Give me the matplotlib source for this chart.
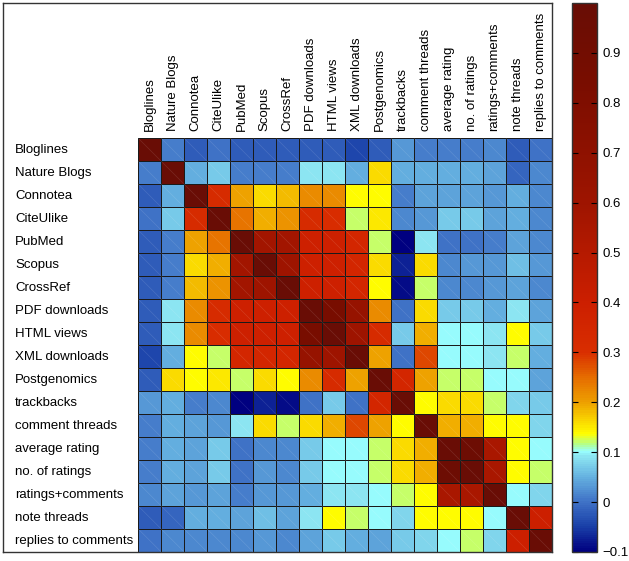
import numpy as np
import matplotlib
matplotlib.use("Agg")
import matplotlib.pyplot as plt
from matplotlib.colors import LinearSegmentedColormap, Normalize
from matplotlib.collections import LineCollection

labels = ["Bloglines", "Nature Blogs", "Connotea", "CiteUlike", "PubMed", "Scopus",
          "CrossRef", "PDF downloads", "HTML views", "XML downloads", "Postgenomics",
          "trackbacks", "comment threads", "average rating", "no. of ratings",
          "ratings+comments", "note threads", "replies to comments"]

corr = [
    [1.00, 0.01, -0.02, 0.00, -0.02, -0.02, -0.02, -0.02, -0.02, -0.04, -0.02, 0.03, 0.01, 0.01, 0.01, 0.02, -0.02, 0.00],
    [0.01, 1.00, 0.05, 0.07, 0.01, 0.01, 0.01, 0.09, 0.09, 0.05, 0.16, 0.05, 0.05, 0.05, 0.05, 0.04, -0.01, 0.02],
    [-0.02, 0.05, 1.00, 0.32, 0.20, 0.16, 0.18, 0.22, 0.22, 0.14, 0.14, 0.01, 0.04, 0.04, 0.04, 0.03, 0.05, 0.02],
    [0.00, 0.07, 0.32, 1.00, 0.24, 0.19, 0.21, 0.32, 0.31, 0.12, 0.15, 0.02, 0.03, 0.07, 0.07, 0.04, 0.05, 0.02],
    [-0.02, 0.01, 0.20, 0.24, 1.00, 0.58, 0.58, 0.39, 0.39, 0.35, 0.12, -0.10, 0.09, 0.00, 0.00, 0.01, 0.04, 0.02],
    [-0.02, 0.01, 0.16, 0.19, 0.58, 1.00, 0.60, 0.39, 0.39, 0.35, 0.16, -0.07, 0.16, 0.02, 0.03, 0.03, 0.06, 0.03],
    [-0.02, 0.01, 0.18, 0.21, 0.58, 0.60, 1.00, 0.39, 0.39, 0.35, 0.14, -0.09, 0.12, 0.02, 0.02, 0.03, 0.04, 0.02],
    [-0.02, 0.09, 0.22, 0.32, 0.39, 0.39, 0.39, 1.00, 0.85, 0.65, 0.22, 0.00, 0.16, 0.07, 0.07, 0.05, 0.09, 0.04],
    [-0.02, 0.09, 0.22, 0.31, 0.39, 0.39, 0.39, 0.85, 1.00, 0.60, 0.32, 0.07, 0.19, 0.10, 0.10, 0.09, 0.14, 0.07],
    [-0.04, 0.05, 0.14, 0.12, 0.35, 0.35, 0.35, 0.65, 0.60, 1.00, 0.20, 0.00, 0.28, 0.10, 0.10, 0.09, 0.12, 0.05],
    [-0.02, 0.16, 0.14, 0.15, 0.12, 0.16, 0.14, 0.22, 0.32, 0.20, 1.00, 0.35, 0.20, 0.12, 0.12, 0.10, 0.10, 0.04],
    [0.03, 0.05, 0.01, 0.02, -0.10, -0.07, -0.09, 0.00, 0.07, 0.00, 0.35, 1.00, 0.14, 0.16, 0.16, 0.12, 0.08, 0.07],
    [0.01, 0.05, 0.04, 0.03, 0.09, 0.16, 0.12, 0.16, 0.19, 0.28, 0.20, 0.14, 1.00, 0.19, 0.19, 0.14, 0.14, 0.08],
    [0.01, 0.05, 0.04, 0.07, 0.00, 0.02, 0.02, 0.07, 0.10, 0.10, 0.12, 0.16, 0.19, 1.00, 0.95, 0.55, 0.14, 0.10],
    [0.01, 0.05, 0.04, 0.07, 0.00, 0.03, 0.02, 0.07, 0.10, 0.10, 0.12, 0.16, 0.19, 0.95, 1.00, 0.55, 0.14, 0.12],
    [0.02, 0.04, 0.03, 0.04, 0.01, 0.03, 0.03, 0.05, 0.09, 0.09, 0.10, 0.12, 0.14, 0.55, 0.55, 1.00, 0.10, 0.08],
    [-0.02, -0.01, 0.05, 0.05, 0.04, 0.06, 0.04, 0.09, 0.14, 0.12, 0.10, 0.08, 0.14, 0.14, 0.14, 0.10, 1.00, 0.40],
    [0.00, 0.02, 0.02, 0.02, 0.02, 0.03, 0.02, 0.04, 0.07, 0.05, 0.04, 0.07, 0.08, 0.10, 0.12, 0.08, 0.40, 1.00],
]

cbar_ticks = [-0.1, 0, 0.1, 0.2, 0.3, 0.4, 0.5, 0.6, 0.7, 0.8, 0.9]
cbar_labels = ["\u22120.1", "0", "0.1", "0.2", "0.3", "0.4", "0.5", "0.6", "0.7", "0.8", "0.9"]
vmin, vmax = -0.1, 1.0

anchors = [
    (-0.10, (0.00, 0.00, 0.50)),
    (-0.05, (0.10, 0.25, 0.66)),
    (0.00, (0.25, 0.45, 0.78)),
    (0.05, (0.40, 0.70, 0.88)),
    (0.09, (0.55, 0.90, 0.95)),
    (0.10, (0.60, 1.00, 1.00)),
    (0.115, (0.70, 1.00, 0.55)),
    (0.135, (1.00, 1.00, 0.00)),
    (0.16, (0.98, 0.85, 0.00)),
    (0.20, (0.93, 0.62, 0.00)),
    (0.25, (0.90, 0.42, 0.00)),
    (0.30, (0.85, 0.18, 0.00)),
    (0.40, (0.80, 0.12, 0.00)),
    (0.60, (0.62, 0.08, 0.00)),
    (0.85, (0.47, 0.05, 0.00)),
    (1.00, (0.41, 0.05, 0.02)),
]
cmap = LinearSegmentedColormap.from_list(
    "custom", [((v - vmin) / (vmax - vmin), c) for v, c in anchors], N=256)
norm = Normalize(vmin=vmin, vmax=vmax)

plt.rcParams['font.family'] = ['Liberation Sans', 'DejaVu Sans']
W, H = 629, 561
fig = plt.figure(figsize=(W / 100, H / 100), dpi=100)

ax = fig.add_axes([3 / W, 1 - 552 / H, 549 / W, 549 / H])
data = np.array(corr)
n = len(labels)
ax.pcolormesh(np.arange(n + 1) - 0.5, np.arange(n + 1) - 0.5, data, cmap=cmap, norm=norm,
              edgecolors='#1a1a1a', linewidth=0.6)
segs = [[(j - 0.5, i - 0.5), (j + 0.5, i + 0.5)] for i in range(n) for j in range(n)]
ax.add_collection(LineCollection(segs, colors='white', linewidths=0.5, alpha=0.12))

left = -0.5 - (138 - 3) / 22.95
ax.set_xlim(left, n - 0.5)
ax.set_ylim(n - 0.5, left)
ax.set_xticks([])
ax.set_yticks([])
for s in ax.spines.values():
    s.set_linewidth(1.0)
    s.set_color('#333333')

fs = 9.5
for i, lab in enumerate(labels):
    ax.text(left + (15 - 3) / 22.95, i, lab, ha='left', va='center', fontsize=fs)
    ax.text(i, -0.5 - 7 / 22.95, lab, ha='center', va='bottom', rotation=90, fontsize=fs)

cax = fig.add_axes([572 / W, 1 - 552 / H, 25 / W, 549 / H])
cb = fig.colorbar(plt.cm.ScalarMappable(norm=norm, cmap=cmap), cax=cax, ticks=cbar_ticks)
cb.outline.set_linewidth(1.0)
cb.outline.set_edgecolor('#333333')
cax.tick_params(direction='in', left=True, right=True, length=4, width=0.8,
                labelsize=fs, labelleft=False, labelright=True, pad=4)
cb.ax.set_yticklabels(cbar_labels)

fig.savefig("out.png", dpi=100)
